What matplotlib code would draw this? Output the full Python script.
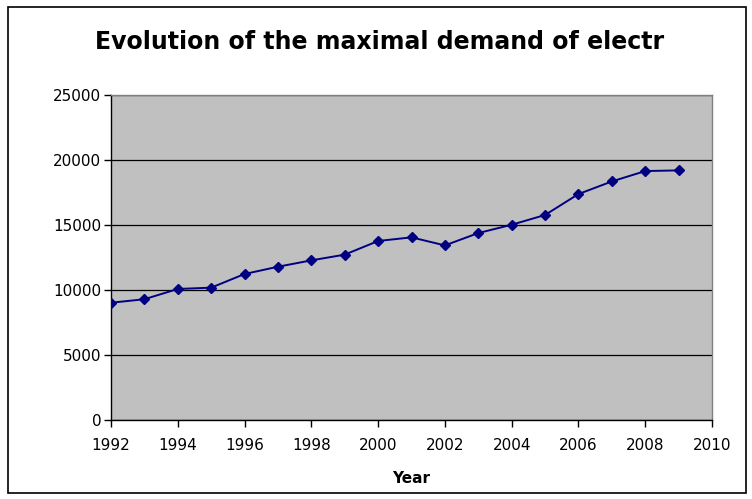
import matplotlib.pyplot as plt
from matplotlib.patches import Rectangle

# maximal demand per year
years = [1992, 1993, 1994, 1995, 1996, 1997, 1998, 1999, 2000,
         2001, 2002, 2003, 2004, 2005, 2006, 2007, 2008, 2009]
demand = [9020, 9290, 10080, 10180, 11230, 11790, 12280, 12720, 13770,
          14050, 13430, 14380, 15020, 15770, 17380, 18350, 19150, 19200]

x_ticks = list(range(1992, 2011, 2))
y_ticks = list(range(0, 25001, 5000))

plt.rcParams['font.family'] = ['DejaVu Sans']

fig = plt.figure(figsize=(7.52, 4.99), dpi=100)
fig.patch.set_facecolor('white')

# outer chart frame
fig.add_artist(Rectangle((8 / 752, 1 - 493 / 499), 738 / 752, 486 / 499,
                         transform=fig.transFigure, fill=False,
                         edgecolor='black', linewidth=1.2))

ax = fig.add_axes([111 / 752, 1 - 420 / 499, 601 / 752, 325 / 499])
ax.set_facecolor('#C0C0C0')

ax.plot(years, demand, color='#000080', linewidth=1.4, marker='D',
        markersize=5.5, zorder=3)

ax.set_xlim(1992, 2010)
ax.set_ylim(0, 25000)
ax.set_xticks(x_ticks)
ax.set_yticks(y_ticks)
ax.yaxis.grid(True, color='black', linewidth=0.9)
ax.set_axisbelow(True)

for side in ['top', 'right']:
    ax.spines[side].set_color('#808080')
    ax.spines[side].set_linewidth(1.0)
for side in ['left', 'bottom']:
    ax.spines[side].set_color('black')
    ax.spines[side].set_linewidth(1.0)

ax.tick_params(axis='both', direction='out', length=5, width=1,
               labelsize=11, colors='black')
ax.tick_params(axis='x', pad=8)
ax.tick_params(axis='y', pad=2)

ax.set_xlabel('Year', fontsize=11, fontweight='bold', labelpad=13)

fig.text(380 / 752, 1 - 42 / 499, 'Evolution of the maximal demand of electr',
         ha='center', va='center', fontsize=17, fontweight='bold')

fig.savefig('out.png', dpi=100)
